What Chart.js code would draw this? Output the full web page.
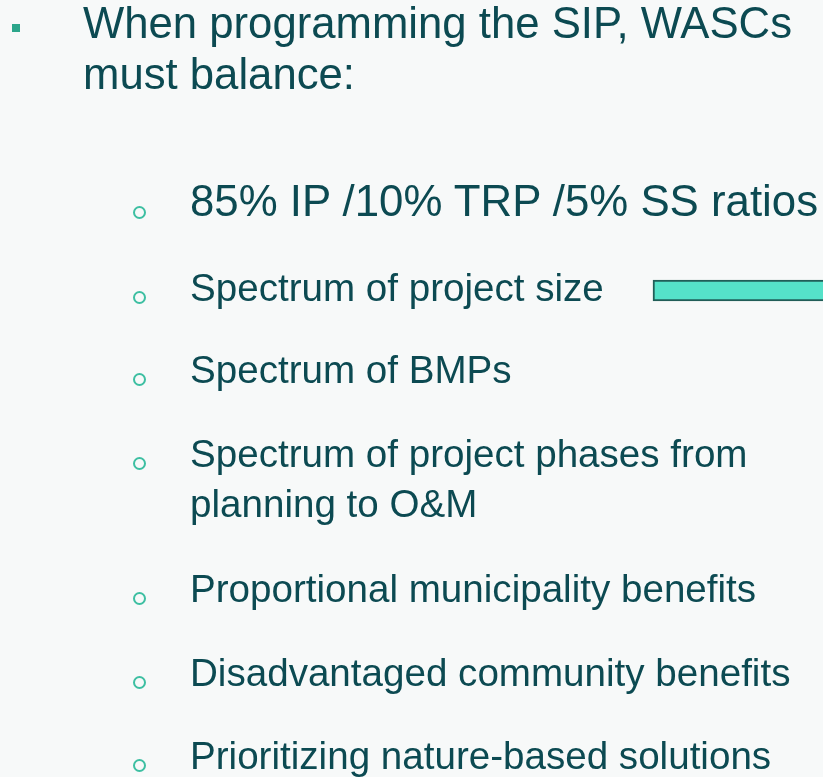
<!DOCTYPE html>
<html>
<head>
<meta charset="utf-8">
<script src="https://cdn.jsdelivr.net/npm/chart.js@4"></script>
<style>
  html, body { margin: 0; padding: 0; background: #f7f9f9; }
  #slide { position: relative; width: 823px; height: 777px; overflow: hidden; }
  #slide canvas { position: absolute; left: 0; top: 0; }
  .line { position: absolute; white-space: nowrap; color: #0c4a52;
          font-family: "Liberation Sans", Arial, sans-serif; }
  .sq { position: absolute; width: 8px; height: 8px; background: #2ca68b; }
  .ring { position: absolute; width: 9px; height: 9px; border: 2px solid #3dbfa2; border-radius: 50%; }
</style>
</head>
<body>
<div id="slide">
  <canvas id="myChart" width="823" height="777"></canvas>
</div>
<script>
// slide text
var titleLines = ['When programming the SIP, WASCs', 'must balance:'];
var titleBaselines = [38, 89];
var subItems = [
  ['85% IP /10% TRP /5% SS ratios'],
  ['Spectrum of project size'],
  ['Spectrum of BMPs'],
  ['Spectrum of project phases from', 'planning to O&M'],
  ['Proportional municipality benefits'],
  ['Disadvantaged community benefits'],
  ['Prioritizing nature-based solutions']
];
var subBaselines = [216, 302, 384, 468, 603, 687, 770];

// the one bar on the slide (value range on a 0..823 scale, row position on 0..777)
var barLabels = ['Spectrum of project size'];
var barRanges = [[653, 900]];
var barRows = [290.5];

var slide = document.getElementById('slide');

function addLine(txt, x, baseline, size) {
  var d = document.createElement('div');
  d.className = 'line';
  d.textContent = txt;
  d.style.left = x + 'px';
  d.style.fontSize = size + 'px';
  d.style.lineHeight = size + 'px';
  d.style.top = (baseline - 0.8465 * size) + 'px';
  slide.appendChild(d);
}

var sq = document.createElement('div');
sq.className = 'sq';
sq.style.left = '12px'; sq.style.top = '24px';
slide.appendChild(sq);

titleLines.forEach(function (t, i) { addLine(t, 83, titleBaselines[i], 43.7); });

subItems.forEach(function (lines, i) {
  var size = i === 0 ? 43.8 : 38.6;
  lines.forEach(function (t, j) { addLine(t, 190, subBaselines[i] + j * 50, size); });
  var r = document.createElement('div');
  r.className = 'ring';
  r.style.left = (139 - 6.5) + 'px';
  r.style.top = (subBaselines[i] - (i === 0 ? 4 : 5) - 6.5) + 'px';
  slide.appendChild(r);
});

var mychart = document.getElementById('myChart').getContext('2d');
var barChart = new Chart(mychart, {
  type: 'bar',
  data: {
    labels: barLabels,
    datasets: [{
      label: barLabels[0],
      data: barRanges.map(function (r, i) { return { x: r, y: barRows[i] }; }),
      backgroundColor: '#55e2c9',
      borderColor: '#215e58',
      borderWidth: 2,
      borderSkipped: false,
      barThickness: 21
    }]
  },
  options: {
    indexAxis: 'y',
    responsive: false,
    animation: false,
    layout: { padding: 0 },
    plugins: { legend: { display: false }, tooltip: { enabled: false } },
    scales: {
      x: { type: 'linear', min: 0, max: 823, offset: false, display: false },
      y: { type: 'linear', min: 0, max: 777, reverse: true, offset: false, display: false }
    }
  }
});
</script>
</body>
</html>
